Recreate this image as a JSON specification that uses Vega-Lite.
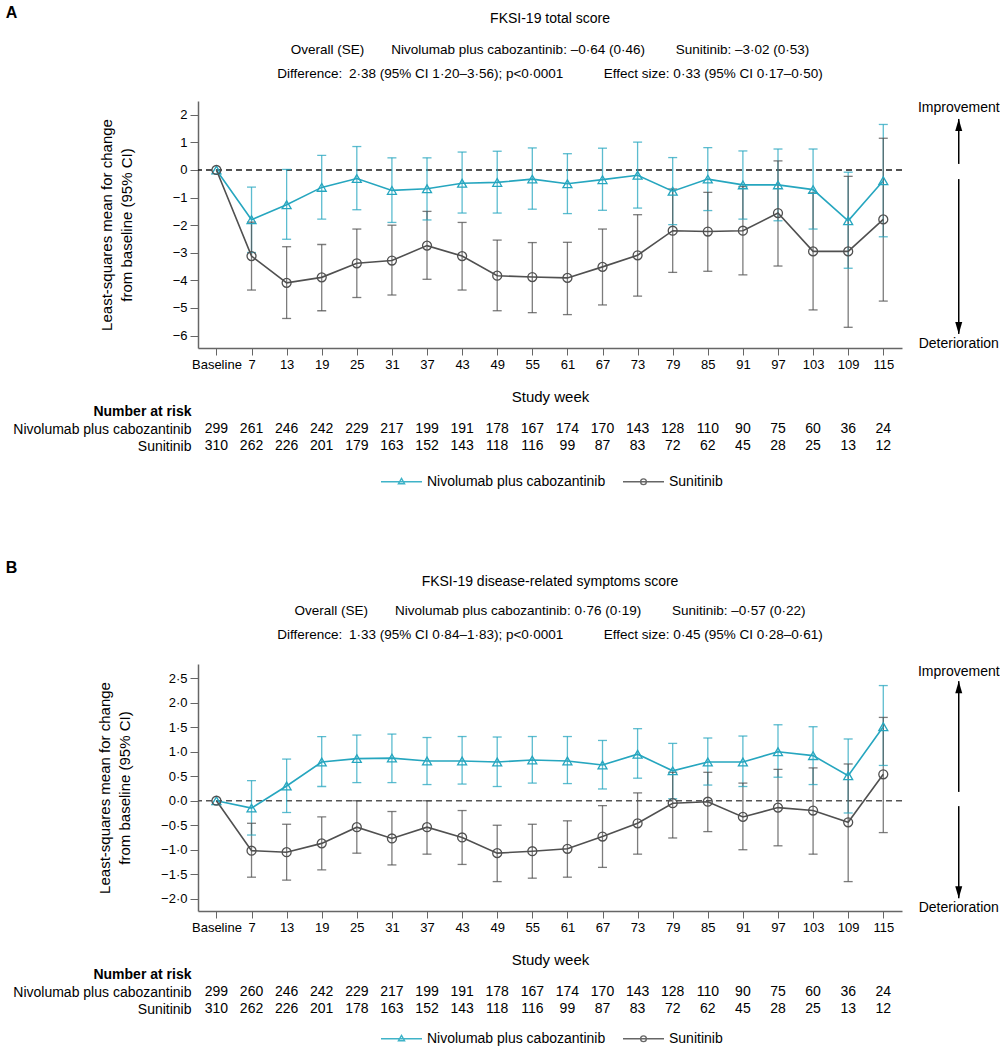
{
  "$schema": "https://vega.github.io/schema/vega-lite/v6.json",
  "config": {
    "font": "Liberation Sans",
    "view": {"stroke": null},
    "axis": {"labelFont": "Liberation Sans", "titleFont": "Liberation Sans", "labelFontSize": 13, "labelColor": "#000", "titleColor": "#000", "titleFontSize": 15, "titleFontWeight": "normal", "domainColor": "#666", "tickColor": "#666", "grid": false, "labelOverlap": false, "labelFlush": false},
    "title": {"font": "Liberation Sans", "subtitleFont": "Liberation Sans", "color": "#000", "subtitleColor": "#000", "fontWeight": "normal"},
    "legend": {"labelFont": "Liberation Sans"},
    "text": {"font": "Liberation Sans"}
  },
  "datasets": {
    "a": [
      {"week": 1, "series": "Nivolumab plus cabozantinib", "mean": 0, "lo": null, "hi": null},
      {"week": 7, "series": "Nivolumab plus cabozantinib", "mean": -1.80, "lo": -2.99, "hi": -0.62},
      {"week": 13, "series": "Nivolumab plus cabozantinib", "mean": -1.26, "lo": -2.51, "hi": 0.02},
      {"week": 19, "series": "Nivolumab plus cabozantinib", "mean": -0.63, "lo": -1.78, "hi": 0.53},
      {"week": 25, "series": "Nivolumab plus cabozantinib", "mean": -0.31, "lo": -1.44, "hi": 0.85},
      {"week": 31, "series": "Nivolumab plus cabozantinib", "mean": -0.74, "lo": -1.90, "hi": 0.44},
      {"week": 37, "series": "Nivolumab plus cabozantinib", "mean": -0.68, "lo": -1.81, "hi": 0.44},
      {"week": 43, "series": "Nivolumab plus cabozantinib", "mean": -0.48, "lo": -1.56, "hi": 0.65},
      {"week": 49, "series": "Nivolumab plus cabozantinib", "mean": -0.45, "lo": -1.56, "hi": 0.68},
      {"week": 55, "series": "Nivolumab plus cabozantinib", "mean": -0.33, "lo": -1.42, "hi": 0.80},
      {"week": 61, "series": "Nivolumab plus cabozantinib", "mean": -0.50, "lo": -1.58, "hi": 0.59},
      {"week": 67, "series": "Nivolumab plus cabozantinib", "mean": -0.35, "lo": -1.46, "hi": 0.79},
      {"week": 73, "series": "Nivolumab plus cabozantinib", "mean": -0.19, "lo": -1.38, "hi": 1.01},
      {"week": 79, "series": "Nivolumab plus cabozantinib", "mean": -0.77, "lo": -1.98, "hi": 0.45},
      {"week": 85, "series": "Nivolumab plus cabozantinib", "mean": -0.33, "lo": -1.47, "hi": 0.81},
      {"week": 91, "series": "Nivolumab plus cabozantinib", "mean": -0.54, "lo": -1.78, "hi": 0.69},
      {"week": 97, "series": "Nivolumab plus cabozantinib", "mean": -0.54, "lo": -1.84, "hi": 0.76},
      {"week": 103, "series": "Nivolumab plus cabozantinib", "mean": -0.71, "lo": -2.14, "hi": 0.76},
      {"week": 109, "series": "Nivolumab plus cabozantinib", "mean": -1.84, "lo": -3.56, "hi": -0.08},
      {"week": 115, "series": "Nivolumab plus cabozantinib", "mean": -0.39, "lo": -2.42, "hi": 1.65},
      {"week": 1, "series": "Sunitinib", "mean": 0, "lo": null, "hi": null},
      {"week": 7, "series": "Sunitinib", "mean": -3.12, "lo": -4.35, "hi": -1.89},
      {"week": 13, "series": "Sunitinib", "mean": -4.09, "lo": -5.38, "hi": -2.78},
      {"week": 19, "series": "Sunitinib", "mean": -3.89, "lo": -5.10, "hi": -2.70},
      {"week": 25, "series": "Sunitinib", "mean": -3.38, "lo": -4.62, "hi": -2.14},
      {"week": 31, "series": "Sunitinib", "mean": -3.28, "lo": -4.53, "hi": -2.00},
      {"week": 37, "series": "Sunitinib", "mean": -2.74, "lo": -3.96, "hi": -1.50},
      {"week": 43, "series": "Sunitinib", "mean": -3.12, "lo": -4.35, "hi": -1.90},
      {"week": 49, "series": "Sunitinib", "mean": -3.83, "lo": -5.10, "hi": -2.54},
      {"week": 55, "series": "Sunitinib", "mean": -3.88, "lo": -5.17, "hi": -2.63},
      {"week": 61, "series": "Sunitinib", "mean": -3.91, "lo": -5.24, "hi": -2.62},
      {"week": 67, "series": "Sunitinib", "mean": -3.51, "lo": -4.89, "hi": -2.14},
      {"week": 73, "series": "Sunitinib", "mean": -3.09, "lo": -4.57, "hi": -1.62},
      {"week": 79, "series": "Sunitinib", "mean": -2.20, "lo": -3.71, "hi": -0.69},
      {"week": 85, "series": "Sunitinib", "mean": -2.23, "lo": -3.67, "hi": -0.81},
      {"week": 91, "series": "Sunitinib", "mean": -2.20, "lo": -3.80, "hi": -0.60},
      {"week": 97, "series": "Sunitinib", "mean": -1.56, "lo": -3.48, "hi": 0.33},
      {"week": 103, "series": "Sunitinib", "mean": -2.95, "lo": -5.07, "hi": -0.83},
      {"week": 109, "series": "Sunitinib", "mean": -2.95, "lo": -5.70, "hi": -0.23},
      {"week": 115, "series": "Sunitinib", "mean": -1.79, "lo": -4.75, "hi": 1.15}
    ],
    "b": [
      {"week": 1, "series": "Nivolumab plus cabozantinib", "mean": 0, "lo": null, "hi": null},
      {"week": 7, "series": "Nivolumab plus cabozantinib", "mean": -0.15, "lo": -0.70, "hi": 0.41},
      {"week": 13, "series": "Nivolumab plus cabozantinib", "mean": 0.30, "lo": -0.24, "hi": 0.85},
      {"week": 19, "series": "Nivolumab plus cabozantinib", "mean": 0.79, "lo": 0.29, "hi": 1.31},
      {"week": 25, "series": "Nivolumab plus cabozantinib", "mean": 0.86, "lo": 0.37, "hi": 1.34},
      {"week": 31, "series": "Nivolumab plus cabozantinib", "mean": 0.87, "lo": 0.37, "hi": 1.36},
      {"week": 37, "series": "Nivolumab plus cabozantinib", "mean": 0.81, "lo": 0.33, "hi": 1.29},
      {"week": 43, "series": "Nivolumab plus cabozantinib", "mean": 0.81, "lo": 0.34, "hi": 1.31},
      {"week": 49, "series": "Nivolumab plus cabozantinib", "mean": 0.79, "lo": 0.29, "hi": 1.30},
      {"week": 55, "series": "Nivolumab plus cabozantinib", "mean": 0.83, "lo": 0.36, "hi": 1.31},
      {"week": 61, "series": "Nivolumab plus cabozantinib", "mean": 0.81, "lo": 0.35, "hi": 1.31},
      {"week": 67, "series": "Nivolumab plus cabozantinib", "mean": 0.73, "lo": 0.24, "hi": 1.23},
      {"week": 73, "series": "Nivolumab plus cabozantinib", "mean": 0.95, "lo": 0.46, "hi": 1.47},
      {"week": 79, "series": "Nivolumab plus cabozantinib", "mean": 0.61, "lo": 0.04, "hi": 1.17},
      {"week": 85, "series": "Nivolumab plus cabozantinib", "mean": 0.79, "lo": 0.32, "hi": 1.28},
      {"week": 91, "series": "Nivolumab plus cabozantinib", "mean": 0.79, "lo": 0.29, "hi": 1.32},
      {"week": 97, "series": "Nivolumab plus cabozantinib", "mean": 1.00, "lo": 0.48, "hi": 1.55},
      {"week": 103, "series": "Nivolumab plus cabozantinib", "mean": 0.92, "lo": 0.33, "hi": 1.51},
      {"week": 109, "series": "Nivolumab plus cabozantinib", "mean": 0.51, "lo": -0.25, "hi": 1.26},
      {"week": 115, "series": "Nivolumab plus cabozantinib", "mean": 1.51, "lo": 0.72, "hi": 2.35},
      {"week": 1, "series": "Sunitinib", "mean": 0, "lo": null, "hi": null},
      {"week": 7, "series": "Sunitinib", "mean": -1.02, "lo": -1.56, "hi": -0.46},
      {"week": 13, "series": "Sunitinib", "mean": -1.05, "lo": -1.62, "hi": -0.48},
      {"week": 19, "series": "Sunitinib", "mean": -0.87, "lo": -1.41, "hi": -0.33},
      {"week": 25, "series": "Sunitinib", "mean": -0.54, "lo": -1.07, "hi": 0.00},
      {"week": 31, "series": "Sunitinib", "mean": -0.77, "lo": -1.31, "hi": -0.22},
      {"week": 37, "series": "Sunitinib", "mean": -0.54, "lo": -1.09, "hi": 0.00},
      {"week": 43, "series": "Sunitinib", "mean": -0.75, "lo": -1.30, "hi": -0.20},
      {"week": 49, "series": "Sunitinib", "mean": -1.07, "lo": -1.65, "hi": -0.50},
      {"week": 55, "series": "Sunitinib", "mean": -1.03, "lo": -1.58, "hi": -0.48},
      {"week": 61, "series": "Sunitinib", "mean": -0.98, "lo": -1.56, "hi": -0.41},
      {"week": 67, "series": "Sunitinib", "mean": -0.73, "lo": -1.36, "hi": -0.10},
      {"week": 73, "series": "Sunitinib", "mean": -0.46, "lo": -1.09, "hi": 0.16},
      {"week": 79, "series": "Sunitinib", "mean": -0.05, "lo": -0.76, "hi": 0.58},
      {"week": 85, "series": "Sunitinib", "mean": -0.02, "lo": -0.63, "hi": 0.58},
      {"week": 91, "series": "Sunitinib", "mean": -0.33, "lo": -1.00, "hi": 0.36},
      {"week": 97, "series": "Sunitinib", "mean": -0.14, "lo": -0.92, "hi": 0.64},
      {"week": 103, "series": "Sunitinib", "mean": -0.20, "lo": -1.09, "hi": 0.67},
      {"week": 109, "series": "Sunitinib", "mean": -0.44, "lo": -1.65, "hi": 0.75},
      {"week": 115, "series": "Sunitinib", "mean": 0.54, "lo": -0.65, "hi": 1.70}
    ],
    "riskA": [
      {"week": 1, "row": "Nivolumab plus cabozantinib", "n": "299"}, {"week": 7, "row": "Nivolumab plus cabozantinib", "n": "261"}, {"week": 13, "row": "Nivolumab plus cabozantinib", "n": "246"}, {"week": 19, "row": "Nivolumab plus cabozantinib", "n": "242"}, {"week": 25, "row": "Nivolumab plus cabozantinib", "n": "229"}, {"week": 31, "row": "Nivolumab plus cabozantinib", "n": "217"}, {"week": 37, "row": "Nivolumab plus cabozantinib", "n": "199"}, {"week": 43, "row": "Nivolumab plus cabozantinib", "n": "191"}, {"week": 49, "row": "Nivolumab plus cabozantinib", "n": "178"}, {"week": 55, "row": "Nivolumab plus cabozantinib", "n": "167"}, {"week": 61, "row": "Nivolumab plus cabozantinib", "n": "174"}, {"week": 67, "row": "Nivolumab plus cabozantinib", "n": "170"}, {"week": 73, "row": "Nivolumab plus cabozantinib", "n": "143"}, {"week": 79, "row": "Nivolumab plus cabozantinib", "n": "128"}, {"week": 85, "row": "Nivolumab plus cabozantinib", "n": "110"}, {"week": 91, "row": "Nivolumab plus cabozantinib", "n": "90"}, {"week": 97, "row": "Nivolumab plus cabozantinib", "n": "75"}, {"week": 103, "row": "Nivolumab plus cabozantinib", "n": "60"}, {"week": 109, "row": "Nivolumab plus cabozantinib", "n": "36"}, {"week": 115, "row": "Nivolumab plus cabozantinib", "n": "24"},
      {"week": 1, "row": "Sunitinib", "n": "310"}, {"week": 7, "row": "Sunitinib", "n": "262"}, {"week": 13, "row": "Sunitinib", "n": "226"}, {"week": 19, "row": "Sunitinib", "n": "201"}, {"week": 25, "row": "Sunitinib", "n": "179"}, {"week": 31, "row": "Sunitinib", "n": "163"}, {"week": 37, "row": "Sunitinib", "n": "152"}, {"week": 43, "row": "Sunitinib", "n": "143"}, {"week": 49, "row": "Sunitinib", "n": "118"}, {"week": 55, "row": "Sunitinib", "n": "116"}, {"week": 61, "row": "Sunitinib", "n": "99"}, {"week": 67, "row": "Sunitinib", "n": "87"}, {"week": 73, "row": "Sunitinib", "n": "83"}, {"week": 79, "row": "Sunitinib", "n": "72"}, {"week": 85, "row": "Sunitinib", "n": "62"}, {"week": 91, "row": "Sunitinib", "n": "45"}, {"week": 97, "row": "Sunitinib", "n": "28"}, {"week": 103, "row": "Sunitinib", "n": "25"}, {"week": 109, "row": "Sunitinib", "n": "13"}, {"week": 115, "row": "Sunitinib", "n": "12"}
    ],
    "riskB": [
      {"week": 1, "row": "Nivolumab plus cabozantinib", "n": "299"}, {"week": 7, "row": "Nivolumab plus cabozantinib", "n": "260"}, {"week": 13, "row": "Nivolumab plus cabozantinib", "n": "246"}, {"week": 19, "row": "Nivolumab plus cabozantinib", "n": "242"}, {"week": 25, "row": "Nivolumab plus cabozantinib", "n": "229"}, {"week": 31, "row": "Nivolumab plus cabozantinib", "n": "217"}, {"week": 37, "row": "Nivolumab plus cabozantinib", "n": "199"}, {"week": 43, "row": "Nivolumab plus cabozantinib", "n": "191"}, {"week": 49, "row": "Nivolumab plus cabozantinib", "n": "178"}, {"week": 55, "row": "Nivolumab plus cabozantinib", "n": "167"}, {"week": 61, "row": "Nivolumab plus cabozantinib", "n": "174"}, {"week": 67, "row": "Nivolumab plus cabozantinib", "n": "170"}, {"week": 73, "row": "Nivolumab plus cabozantinib", "n": "143"}, {"week": 79, "row": "Nivolumab plus cabozantinib", "n": "128"}, {"week": 85, "row": "Nivolumab plus cabozantinib", "n": "110"}, {"week": 91, "row": "Nivolumab plus cabozantinib", "n": "90"}, {"week": 97, "row": "Nivolumab plus cabozantinib", "n": "75"}, {"week": 103, "row": "Nivolumab plus cabozantinib", "n": "60"}, {"week": 109, "row": "Nivolumab plus cabozantinib", "n": "36"}, {"week": 115, "row": "Nivolumab plus cabozantinib", "n": "24"},
      {"week": 1, "row": "Sunitinib", "n": "310"}, {"week": 7, "row": "Sunitinib", "n": "262"}, {"week": 13, "row": "Sunitinib", "n": "226"}, {"week": 19, "row": "Sunitinib", "n": "201"}, {"week": 25, "row": "Sunitinib", "n": "178"}, {"week": 31, "row": "Sunitinib", "n": "163"}, {"week": 37, "row": "Sunitinib", "n": "152"}, {"week": 43, "row": "Sunitinib", "n": "143"}, {"week": 49, "row": "Sunitinib", "n": "118"}, {"week": 55, "row": "Sunitinib", "n": "116"}, {"week": 61, "row": "Sunitinib", "n": "99"}, {"week": 67, "row": "Sunitinib", "n": "87"}, {"week": 73, "row": "Sunitinib", "n": "83"}, {"week": 79, "row": "Sunitinib", "n": "72"}, {"week": 85, "row": "Sunitinib", "n": "62"}, {"week": 91, "row": "Sunitinib", "n": "45"}, {"week": 97, "row": "Sunitinib", "n": "28"}, {"week": 103, "row": "Sunitinib", "n": "25"}, {"week": 109, "row": "Sunitinib", "n": "13"}, {"week": 115, "row": "Sunitinib", "n": "12"}
    ],
    "arrA": [
      {"week": 127.9, "lo": 0.22, "hi": 1.85, "part": "up"},
      {"week": 127.9, "lo": -5.94, "hi": -0.33, "part": "down"}
    ],
    "lblA": [
      {"week": 127.9, "mean": 2.25, "label": "Improvement"},
      {"week": 127.9, "mean": -6.30, "label": "Deterioration"}
    ],
    "arrB": [
      {"week": 127.9, "lo": 0.18, "hi": 2.44, "part": "up"},
      {"week": 127.9, "lo": -1.99, "hi": -0.11, "part": "down"}
    ],
    "lblB": [
      {"week": 127.9, "mean": 2.63, "label": "Improvement"},
      {"week": 127.9, "mean": -2.18, "label": "Deterioration"}
    ],
    "legendItems": [
      {"series": "Nivolumab plus cabozantinib"},
      {"series": "Sunitinib"}
    ]
  },
  "spacing": 70,
  "resolve": {"scale": {"color": "independent", "shape": "independent"}, "legend": {"color": "independent", "shape": "independent"}},
  "vconcat": [
    {
      "title": {"text": "A", "anchor": "start", "frame": "bounds", "fontSize": 16, "fontWeight": "bold", "offset": -9, "dx": -7},
      "spacing": 55,
      "bounds": "flush",
      "resolve": {"scale": {"color": "independent", "shape": "independent"}, "legend": {"color": "independent", "shape": "independent"}},
      "vconcat": [
        {
          "width": 704,
          "height": 247,
          "data": {"name": "a"},
          "title": {"text": "FKSI-19 total score", "subtitle": ["Overall (SE)\u2003\u2003Nivolumab plus cabozantinib: –0·64 (0·46)\u2003\u2003 Sunitinib: –3·02 (0·53)", "Difference:\u20022·38 (95% CI 1·20–3·56); p<0·0001\u2003\u2003\u2003Effect size: 0·33 (95% CI 0·17–0·50)"], "anchor": "middle", "frame": "group", "fontSize": 14, "subtitleFontSize": 13.5, "subtitlePadding": 17, "subtitleLineHeight": 24, "offset": 20},
          "layer": [
            {"data": {"values": [{"ref": 0}]}, "mark": {"type": "rule", "strokeDash": [6, 4], "strokeWidth": 1.5, "color": "#1a1a1a"}, "encoding": {
              "y": {"field": "ref", "type": "quantitative", "scale": {"domain": [-6.45, 2.5], "nice": false, "zero": false}, "axis": {"values": [-6, -5, -4, -3, -2, -1, 0, 1, 2], "title": ["Least-squares mean for change", "from baseline (95% CI)"], "titleLineHeight": 20, "tickSize": 8, "labelPadding": 3, "titlePadding": 38, "labelOverlap": false, "labelFlush": false, "domainWidth": 1.5}}}},
            {"mark": {"type": "rule", "strokeWidth": 1.3, "opacity": 0.75}, "encoding": {
              "x": {"field": "week", "type": "quantitative", "scale": {"domain": [-2.15, 118.2], "nice": false, "zero": false}, "axis": {"values": [1, 7, 13, 19, 25, 31, 37, 43, 49, 55, 61, 67, 73, 79, 85, 91, 97, 103, 109, 115], "labelExpr": "datum.value === 1 ? 'Baseline' : datum.label", "title": "Study week", "tickSize": 7, "labelPadding": 3, "titlePadding": 18, "labelOverlap": false, "labelFlush": false, "domainWidth": 1.5}},
              "y": {"field": "lo", "type": "quantitative", "scale": {"domain": [-6.45, 2.5], "nice": false, "zero": false}, "axis": {"values": [-6, -5, -4, -3, -2, -1, 0, 1, 2], "title": ["Least-squares mean for change", "from baseline (95% CI)"], "titleLineHeight": 20, "tickSize": 8, "labelPadding": 3, "titlePadding": 38, "labelOverlap": false, "labelFlush": false, "domainWidth": 1.5}},
              "y2": {"field": "hi"},
              "color": {"field": "series", "type": "nominal", "scale": {"domain": ["Nivolumab plus cabozantinib", "Sunitinib"], "range": ["#26a6bf", "#505050"]}, "legend": null}}},
            {"mark": {"type": "tick", "orient": "horizontal", "size": 9, "thickness": 1.3, "opacity": 0.75}, "encoding": {
              "x": {"field": "week", "type": "quantitative", "scale": {"domain": [-2.15, 118.2], "nice": false, "zero": false}, "axis": {"values": [1, 7, 13, 19, 25, 31, 37, 43, 49, 55, 61, 67, 73, 79, 85, 91, 97, 103, 109, 115], "labelExpr": "datum.value === 1 ? 'Baseline' : datum.label", "title": "Study week", "tickSize": 7, "labelPadding": 3, "titlePadding": 18, "labelOverlap": false, "labelFlush": false, "domainWidth": 1.5}},
              "y": {"field": "lo", "type": "quantitative", "scale": {"domain": [-6.45, 2.5], "nice": false, "zero": false}, "axis": {"values": [-6, -5, -4, -3, -2, -1, 0, 1, 2], "title": ["Least-squares mean for change", "from baseline (95% CI)"], "titleLineHeight": 20, "tickSize": 8, "labelPadding": 3, "titlePadding": 38, "labelOverlap": false, "labelFlush": false, "domainWidth": 1.5}},
              "color": {"field": "series", "type": "nominal", "scale": {"domain": ["Nivolumab plus cabozantinib", "Sunitinib"], "range": ["#26a6bf", "#505050"]}, "legend": null}}},
            {"mark": {"type": "tick", "orient": "horizontal", "size": 9, "thickness": 1.3, "opacity": 0.75}, "encoding": {
              "x": {"field": "week", "type": "quantitative", "scale": {"domain": [-2.15, 118.2], "nice": false, "zero": false}, "axis": {"values": [1, 7, 13, 19, 25, 31, 37, 43, 49, 55, 61, 67, 73, 79, 85, 91, 97, 103, 109, 115], "labelExpr": "datum.value === 1 ? 'Baseline' : datum.label", "title": "Study week", "tickSize": 7, "labelPadding": 3, "titlePadding": 18, "labelOverlap": false, "labelFlush": false, "domainWidth": 1.5}},
              "y": {"field": "hi", "type": "quantitative", "scale": {"domain": [-6.45, 2.5], "nice": false, "zero": false}, "axis": {"values": [-6, -5, -4, -3, -2, -1, 0, 1, 2], "title": ["Least-squares mean for change", "from baseline (95% CI)"], "titleLineHeight": 20, "tickSize": 8, "labelPadding": 3, "titlePadding": 38, "labelOverlap": false, "labelFlush": false, "domainWidth": 1.5}},
              "color": {"field": "series", "type": "nominal", "scale": {"domain": ["Nivolumab plus cabozantinib", "Sunitinib"], "range": ["#26a6bf", "#505050"]}, "legend": null}}},
            {"mark": {"type": "line", "strokeWidth": 1.6}, "encoding": {
              "x": {"field": "week", "type": "quantitative", "scale": {"domain": [-2.15, 118.2], "nice": false, "zero": false}, "axis": {"values": [1, 7, 13, 19, 25, 31, 37, 43, 49, 55, 61, 67, 73, 79, 85, 91, 97, 103, 109, 115], "labelExpr": "datum.value === 1 ? 'Baseline' : datum.label", "title": "Study week", "tickSize": 7, "labelPadding": 3, "titlePadding": 18, "labelOverlap": false, "labelFlush": false, "domainWidth": 1.5}},
              "y": {"field": "mean", "type": "quantitative", "scale": {"domain": [-6.45, 2.5], "nice": false, "zero": false}, "axis": {"values": [-6, -5, -4, -3, -2, -1, 0, 1, 2], "title": ["Least-squares mean for change", "from baseline (95% CI)"], "titleLineHeight": 20, "tickSize": 8, "labelPadding": 3, "titlePadding": 38, "labelOverlap": false, "labelFlush": false, "domainWidth": 1.5}},
              "color": {"field": "series", "type": "nominal", "scale": {"domain": ["Nivolumab plus cabozantinib", "Sunitinib"], "range": ["#26a6bf", "#505050"]}, "legend": null}}},
            {"mark": {"type": "point", "filled": false, "size": 80, "strokeWidth": 1.3, "opacity": 1}, "encoding": {
              "x": {"field": "week", "type": "quantitative", "scale": {"domain": [-2.15, 118.2], "nice": false, "zero": false}, "axis": {"values": [1, 7, 13, 19, 25, 31, 37, 43, 49, 55, 61, 67, 73, 79, 85, 91, 97, 103, 109, 115], "labelExpr": "datum.value === 1 ? 'Baseline' : datum.label", "title": "Study week", "tickSize": 7, "labelPadding": 3, "titlePadding": 18, "labelOverlap": false, "labelFlush": false, "domainWidth": 1.5}},
              "y": {"field": "mean", "type": "quantitative", "scale": {"domain": [-6.45, 2.5], "nice": false, "zero": false}, "axis": {"values": [-6, -5, -4, -3, -2, -1, 0, 1, 2], "title": ["Least-squares mean for change", "from baseline (95% CI)"], "titleLineHeight": 20, "tickSize": 8, "labelPadding": 3, "titlePadding": 38, "labelOverlap": false, "labelFlush": false, "domainWidth": 1.5}},
              "color": {"field": "series", "type": "nominal", "scale": {"domain": ["Nivolumab plus cabozantinib", "Sunitinib"], "range": ["#26a6bf", "#505050"]}, "legend": null},
              "shape": {"field": "series", "type": "nominal", "scale": {"domain": ["Nivolumab plus cabozantinib", "Sunitinib"], "range": ["triangle-up", "circle"]}, "legend": null}}},
            {"data": {"name": "arrA"}, "mark": {"type": "rule", "strokeWidth": 1.5, "color": "#000"}, "encoding": {
              "x": {"field": "week", "type": "quantitative", "scale": {"domain": [-2.15, 118.2], "nice": false, "zero": false}, "axis": {"values": [1, 7, 13, 19, 25, 31, 37, 43, 49, 55, 61, 67, 73, 79, 85, 91, 97, 103, 109, 115], "labelExpr": "datum.value === 1 ? 'Baseline' : datum.label", "title": "Study week", "tickSize": 7, "labelPadding": 3, "titlePadding": 18, "labelOverlap": false, "labelFlush": false, "domainWidth": 1.5}},
              "y": {"field": "lo", "type": "quantitative", "scale": {"domain": [-6.45, 2.5], "nice": false, "zero": false}, "axis": {"values": [-6, -5, -4, -3, -2, -1, 0, 1, 2], "title": ["Least-squares mean for change", "from baseline (95% CI)"], "titleLineHeight": 20, "tickSize": 8, "labelPadding": 3, "titlePadding": 38, "labelOverlap": false, "labelFlush": false, "domainWidth": 1.5}},
              "y2": {"field": "hi"}}},
            {"data": {"name": "arrA"}, "transform": [{"filter": "datum.part === 'up'"}], "mark": {"type": "point", "shape": "M0,0L0.7,2.4L-0.7,2.4Z", "filled": true, "size": 100, "color": "#000", "opacity": 1}, "encoding": {
              "x": {"field": "week", "type": "quantitative", "scale": {"domain": [-2.15, 118.2], "nice": false, "zero": false}, "axis": {"values": [1, 7, 13, 19, 25, 31, 37, 43, 49, 55, 61, 67, 73, 79, 85, 91, 97, 103, 109, 115], "labelExpr": "datum.value === 1 ? 'Baseline' : datum.label", "title": "Study week", "tickSize": 7, "labelPadding": 3, "titlePadding": 18, "labelOverlap": false, "labelFlush": false, "domainWidth": 1.5}},
              "y": {"field": "hi", "type": "quantitative", "scale": {"domain": [-6.45, 2.5], "nice": false, "zero": false}, "axis": {"values": [-6, -5, -4, -3, -2, -1, 0, 1, 2], "title": ["Least-squares mean for change", "from baseline (95% CI)"], "titleLineHeight": 20, "tickSize": 8, "labelPadding": 3, "titlePadding": 38, "labelOverlap": false, "labelFlush": false, "domainWidth": 1.5}}}},
            {"data": {"name": "arrA"}, "transform": [{"filter": "datum.part === 'down'"}], "mark": {"type": "point", "shape": "M0,0L0.7,-2.4L-0.7,-2.4Z", "filled": true, "size": 100, "color": "#000", "opacity": 1}, "encoding": {
              "x": {"field": "week", "type": "quantitative", "scale": {"domain": [-2.15, 118.2], "nice": false, "zero": false}, "axis": {"values": [1, 7, 13, 19, 25, 31, 37, 43, 49, 55, 61, 67, 73, 79, 85, 91, 97, 103, 109, 115], "labelExpr": "datum.value === 1 ? 'Baseline' : datum.label", "title": "Study week", "tickSize": 7, "labelPadding": 3, "titlePadding": 18, "labelOverlap": false, "labelFlush": false, "domainWidth": 1.5}},
              "y": {"field": "lo", "type": "quantitative", "scale": {"domain": [-6.45, 2.5], "nice": false, "zero": false}, "axis": {"values": [-6, -5, -4, -3, -2, -1, 0, 1, 2], "title": ["Least-squares mean for change", "from baseline (95% CI)"], "titleLineHeight": 20, "tickSize": 8, "labelPadding": 3, "titlePadding": 38, "labelOverlap": false, "labelFlush": false, "domainWidth": 1.5}}}},
            {"data": {"name": "lblA"}, "mark": {"type": "text", "fontSize": 14, "color": "#000"}, "encoding": {
              "x": {"field": "week", "type": "quantitative", "scale": {"domain": [-2.15, 118.2], "nice": false, "zero": false}, "axis": {"values": [1, 7, 13, 19, 25, 31, 37, 43, 49, 55, 61, 67, 73, 79, 85, 91, 97, 103, 109, 115], "labelExpr": "datum.value === 1 ? 'Baseline' : datum.label", "title": "Study week", "tickSize": 7, "labelPadding": 3, "titlePadding": 18, "labelOverlap": false, "labelFlush": false, "domainWidth": 1.5}},
              "y": {"field": "mean", "type": "quantitative", "scale": {"domain": [-6.45, 2.5], "nice": false, "zero": false}, "axis": {"values": [-6, -5, -4, -3, -2, -1, 0, 1, 2], "title": ["Least-squares mean for change", "from baseline (95% CI)"], "titleLineHeight": 20, "tickSize": 8, "labelPadding": 3, "titlePadding": 38, "labelOverlap": false, "labelFlush": false, "domainWidth": 1.5}},
              "text": {"field": "label"}}}
          ]
        },
        {
          "width": 704,
          "height": 52,
          "layer": [
            {"data": {"name": "riskA"}, "mark": {"type": "text", "fontSize": 14, "color": "#000", "baseline": "middle", "align": "center"}, "encoding": {
              "x": {"field": "week", "type": "quantitative", "scale": {"domain": [-2.15, 118.2], "nice": false, "zero": false}, "axis": null},
              "y": {"field": "row", "type": "nominal", "scale": {"type": "point", "domain": ["Number at risk", "Nivolumab plus cabozantinib", "Sunitinib"], "padding": 0.5}, "axis": {"title": null, "domain": false, "ticks": false, "labelFontSize": 14, "labelPadding": 7, "labelLimit": 400, "labelFontWeight": {"condition": {"test": "datum.value === 'Number at risk'", "value": "bold"}, "value": "normal"}}},
              "text": {"field": "n", "type": "nominal"}}},
            {"data": {"name": "legendItems"}, "mark": {"type": "point", "opacity": 0, "filled": false}, "encoding": {
              "color": {"field": "series", "type": "nominal", "scale": {"domain": ["Nivolumab plus cabozantinib", "Sunitinib"], "range": ["#3fb3c8", "#666666"]}, "legend": {"orient": "none", "legendX": 182, "legendY": 57, "direction": "horizontal", "title": null, "labelFontSize": 14, "labelColor": "#000", "labelLimit": 300, "symbolSize": 1681, "symbolStrokeWidth": 1.4, "symbolOpacity": 1, "labelOffset": 4, "columnPadding": 14}},
              "shape": {"field": "series", "type": "nominal", "scale": {"domain": ["Nivolumab plus cabozantinib", "Sunitinib"], "range": ["M-1,0H1M0,-0.16L0.15,0.1L-0.15,0.1Z", "M-1,0H1M0.14,0A0.14,0.14,0,1,1,-0.14,0A0.14,0.14,0,1,1,0.14,0Z"]}, "legend": {"orient": "none", "legendX": 182, "legendY": 57, "direction": "horizontal", "title": null, "labelFontSize": 14, "labelColor": "#000", "labelLimit": 300, "symbolSize": 1681, "symbolStrokeWidth": 1.4, "symbolOpacity": 1, "labelOffset": 4, "columnPadding": 14}}}}
          ]
        }
      ]
    },
    {
      "title": {"text": "B", "anchor": "start", "frame": "bounds", "fontSize": 16, "fontWeight": "bold", "offset": -1, "dx": -7},
      "spacing": 55,
      "bounds": "flush",
      "resolve": {"scale": {"color": "independent", "shape": "independent"}, "legend": {"color": "independent", "shape": "independent"}},
      "vconcat": [
        {
          "width": 704,
          "height": 247,
          "data": {"name": "b"},
          "title": {"text": "FKSI-19 disease-related symptoms score", "subtitle": ["Overall (SE)\u2003\u2003Nivolumab plus cabozantinib: 0·76 (0·19)\u2003\u2003 Sunitinib: –0·57 (0·22)", "Difference:\u20021·33 (95% CI 0·84–1·83); p<0·0001\u2003\u2003\u2003Effect size: 0·45 (95% CI 0·28–0·61)"], "anchor": "middle", "frame": "group", "fontSize": 14, "subtitleFontSize": 13.5, "subtitlePadding": 15, "subtitleLineHeight": 24, "offset": 23},
          "layer": [
            {"data": {"values": [{"ref": 0}]}, "mark": {"type": "rule", "strokeDash": [6, 4], "strokeWidth": 1.5, "color": "#555555"}, "encoding": {
              "y": {"field": "ref", "type": "quantitative", "scale": {"domain": [-2.25, 2.79], "nice": false, "zero": false}, "axis": {"values": [-2, -1.5, -1, -0.5, 0, 0.5, 1, 1.5, 2, 2.5], "labelExpr": "replace(format(datum.value, '.1f'), '.', '·')", "title": ["Least-squares mean for change", "from baseline (95% CI)"], "titleLineHeight": 20, "tickSize": 8, "labelPadding": 3, "titlePadding": 28, "labelOverlap": false, "labelFlush": false, "domainWidth": 1.5}}}},
            {"mark": {"type": "rule", "strokeWidth": 1.3, "opacity": 0.75}, "encoding": {
              "x": {"field": "week", "type": "quantitative", "scale": {"domain": [-2.15, 118.2], "nice": false, "zero": false}, "axis": {"values": [1, 7, 13, 19, 25, 31, 37, 43, 49, 55, 61, 67, 73, 79, 85, 91, 97, 103, 109, 115], "labelExpr": "datum.value === 1 ? 'Baseline' : datum.label", "title": "Study week", "tickSize": 7, "labelPadding": 3, "titlePadding": 18, "labelOverlap": false, "labelFlush": false, "domainWidth": 1.5}},
              "y": {"field": "lo", "type": "quantitative", "scale": {"domain": [-2.25, 2.79], "nice": false, "zero": false}, "axis": {"values": [-2, -1.5, -1, -0.5, 0, 0.5, 1, 1.5, 2, 2.5], "labelExpr": "replace(format(datum.value, '.1f'), '.', '·')", "title": ["Least-squares mean for change", "from baseline (95% CI)"], "titleLineHeight": 20, "tickSize": 8, "labelPadding": 3, "titlePadding": 28, "labelOverlap": false, "labelFlush": false, "domainWidth": 1.5}},
              "y2": {"field": "hi"},
              "color": {"field": "series", "type": "nominal", "scale": {"domain": ["Nivolumab plus cabozantinib", "Sunitinib"], "range": ["#26a6bf", "#505050"]}, "legend": null}}},
            {"mark": {"type": "tick", "orient": "horizontal", "size": 9, "thickness": 1.3, "opacity": 0.75}, "encoding": {
              "x": {"field": "week", "type": "quantitative", "scale": {"domain": [-2.15, 118.2], "nice": false, "zero": false}, "axis": {"values": [1, 7, 13, 19, 25, 31, 37, 43, 49, 55, 61, 67, 73, 79, 85, 91, 97, 103, 109, 115], "labelExpr": "datum.value === 1 ? 'Baseline' : datum.label", "title": "Study week", "tickSize": 7, "labelPadding": 3, "titlePadding": 18, "labelOverlap": false, "labelFlush": false, "domainWidth": 1.5}},
              "y": {"field": "lo", "type": "quantitative", "scale": {"domain": [-2.25, 2.79], "nice": false, "zero": false}, "axis": {"values": [-2, -1.5, -1, -0.5, 0, 0.5, 1, 1.5, 2, 2.5], "labelExpr": "replace(format(datum.value, '.1f'), '.', '·')", "title": ["Least-squares mean for change", "from baseline (95% CI)"], "titleLineHeight": 20, "tickSize": 8, "labelPadding": 3, "titlePadding": 28, "labelOverlap": false, "labelFlush": false, "domainWidth": 1.5}},
              "color": {"field": "series", "type": "nominal", "scale": {"domain": ["Nivolumab plus cabozantinib", "Sunitinib"], "range": ["#26a6bf", "#505050"]}, "legend": null}}},
            {"mark": {"type": "tick", "orient": "horizontal", "size": 9, "thickness": 1.3, "opacity": 0.75}, "encoding": {
              "x": {"field": "week", "type": "quantitative", "scale": {"domain": [-2.15, 118.2], "nice": false, "zero": false}, "axis": {"values": [1, 7, 13, 19, 25, 31, 37, 43, 49, 55, 61, 67, 73, 79, 85, 91, 97, 103, 109, 115], "labelExpr": "datum.value === 1 ? 'Baseline' : datum.label", "title": "Study week", "tickSize": 7, "labelPadding": 3, "titlePadding": 18, "labelOverlap": false, "labelFlush": false, "domainWidth": 1.5}},
              "y": {"field": "hi", "type": "quantitative", "scale": {"domain": [-2.25, 2.79], "nice": false, "zero": false}, "axis": {"values": [-2, -1.5, -1, -0.5, 0, 0.5, 1, 1.5, 2, 2.5], "labelExpr": "replace(format(datum.value, '.1f'), '.', '·')", "title": ["Least-squares mean for change", "from baseline (95% CI)"], "titleLineHeight": 20, "tickSize": 8, "labelPadding": 3, "titlePadding": 28, "labelOverlap": false, "labelFlush": false, "domainWidth": 1.5}},
              "color": {"field": "series", "type": "nominal", "scale": {"domain": ["Nivolumab plus cabozantinib", "Sunitinib"], "range": ["#26a6bf", "#505050"]}, "legend": null}}},
            {"mark": {"type": "line", "strokeWidth": 1.6}, "encoding": {
              "x": {"field": "week", "type": "quantitative", "scale": {"domain": [-2.15, 118.2], "nice": false, "zero": false}, "axis": {"values": [1, 7, 13, 19, 25, 31, 37, 43, 49, 55, 61, 67, 73, 79, 85, 91, 97, 103, 109, 115], "labelExpr": "datum.value === 1 ? 'Baseline' : datum.label", "title": "Study week", "tickSize": 7, "labelPadding": 3, "titlePadding": 18, "labelOverlap": false, "labelFlush": false, "domainWidth": 1.5}},
              "y": {"field": "mean", "type": "quantitative", "scale": {"domain": [-2.25, 2.79], "nice": false, "zero": false}, "axis": {"values": [-2, -1.5, -1, -0.5, 0, 0.5, 1, 1.5, 2, 2.5], "labelExpr": "replace(format(datum.value, '.1f'), '.', '·')", "title": ["Least-squares mean for change", "from baseline (95% CI)"], "titleLineHeight": 20, "tickSize": 8, "labelPadding": 3, "titlePadding": 28, "labelOverlap": false, "labelFlush": false, "domainWidth": 1.5}},
              "color": {"field": "series", "type": "nominal", "scale": {"domain": ["Nivolumab plus cabozantinib", "Sunitinib"], "range": ["#26a6bf", "#505050"]}, "legend": null}}},
            {"mark": {"type": "point", "filled": false, "size": 80, "strokeWidth": 1.3, "opacity": 1}, "encoding": {
              "x": {"field": "week", "type": "quantitative", "scale": {"domain": [-2.15, 118.2], "nice": false, "zero": false}, "axis": {"values": [1, 7, 13, 19, 25, 31, 37, 43, 49, 55, 61, 67, 73, 79, 85, 91, 97, 103, 109, 115], "labelExpr": "datum.value === 1 ? 'Baseline' : datum.label", "title": "Study week", "tickSize": 7, "labelPadding": 3, "titlePadding": 18, "labelOverlap": false, "labelFlush": false, "domainWidth": 1.5}},
              "y": {"field": "mean", "type": "quantitative", "scale": {"domain": [-2.25, 2.79], "nice": false, "zero": false}, "axis": {"values": [-2, -1.5, -1, -0.5, 0, 0.5, 1, 1.5, 2, 2.5], "labelExpr": "replace(format(datum.value, '.1f'), '.', '·')", "title": ["Least-squares mean for change", "from baseline (95% CI)"], "titleLineHeight": 20, "tickSize": 8, "labelPadding": 3, "titlePadding": 28, "labelOverlap": false, "labelFlush": false, "domainWidth": 1.5}},
              "color": {"field": "series", "type": "nominal", "scale": {"domain": ["Nivolumab plus cabozantinib", "Sunitinib"], "range": ["#26a6bf", "#505050"]}, "legend": null},
              "shape": {"field": "series", "type": "nominal", "scale": {"domain": ["Nivolumab plus cabozantinib", "Sunitinib"], "range": ["triangle-up", "circle"]}, "legend": null}}},
            {"data": {"name": "arrB"}, "mark": {"type": "rule", "strokeWidth": 1.5, "color": "#000"}, "encoding": {
              "x": {"field": "week", "type": "quantitative", "scale": {"domain": [-2.15, 118.2], "nice": false, "zero": false}, "axis": {"values": [1, 7, 13, 19, 25, 31, 37, 43, 49, 55, 61, 67, 73, 79, 85, 91, 97, 103, 109, 115], "labelExpr": "datum.value === 1 ? 'Baseline' : datum.label", "title": "Study week", "tickSize": 7, "labelPadding": 3, "titlePadding": 18, "labelOverlap": false, "labelFlush": false, "domainWidth": 1.5}},
              "y": {"field": "lo", "type": "quantitative", "scale": {"domain": [-2.25, 2.79], "nice": false, "zero": false}, "axis": {"values": [-2, -1.5, -1, -0.5, 0, 0.5, 1, 1.5, 2, 2.5], "labelExpr": "replace(format(datum.value, '.1f'), '.', '·')", "title": ["Least-squares mean for change", "from baseline (95% CI)"], "titleLineHeight": 20, "tickSize": 8, "labelPadding": 3, "titlePadding": 28, "labelOverlap": false, "labelFlush": false, "domainWidth": 1.5}},
              "y2": {"field": "hi"}}},
            {"data": {"name": "arrB"}, "transform": [{"filter": "datum.part === 'up'"}], "mark": {"type": "point", "shape": "M0,0L0.7,2.4L-0.7,2.4Z", "filled": true, "size": 100, "color": "#000", "opacity": 1}, "encoding": {
              "x": {"field": "week", "type": "quantitative", "scale": {"domain": [-2.15, 118.2], "nice": false, "zero": false}, "axis": {"values": [1, 7, 13, 19, 25, 31, 37, 43, 49, 55, 61, 67, 73, 79, 85, 91, 97, 103, 109, 115], "labelExpr": "datum.value === 1 ? 'Baseline' : datum.label", "title": "Study week", "tickSize": 7, "labelPadding": 3, "titlePadding": 18, "labelOverlap": false, "labelFlush": false, "domainWidth": 1.5}},
              "y": {"field": "hi", "type": "quantitative", "scale": {"domain": [-2.25, 2.79], "nice": false, "zero": false}, "axis": {"values": [-2, -1.5, -1, -0.5, 0, 0.5, 1, 1.5, 2, 2.5], "labelExpr": "replace(format(datum.value, '.1f'), '.', '·')", "title": ["Least-squares mean for change", "from baseline (95% CI)"], "titleLineHeight": 20, "tickSize": 8, "labelPadding": 3, "titlePadding": 28, "labelOverlap": false, "labelFlush": false, "domainWidth": 1.5}}}},
            {"data": {"name": "arrB"}, "transform": [{"filter": "datum.part === 'down'"}], "mark": {"type": "point", "shape": "M0,0L0.7,-2.4L-0.7,-2.4Z", "filled": true, "size": 100, "color": "#000", "opacity": 1}, "encoding": {
              "x": {"field": "week", "type": "quantitative", "scale": {"domain": [-2.15, 118.2], "nice": false, "zero": false}, "axis": {"values": [1, 7, 13, 19, 25, 31, 37, 43, 49, 55, 61, 67, 73, 79, 85, 91, 97, 103, 109, 115], "labelExpr": "datum.value === 1 ? 'Baseline' : datum.label", "title": "Study week", "tickSize": 7, "labelPadding": 3, "titlePadding": 18, "labelOverlap": false, "labelFlush": false, "domainWidth": 1.5}},
              "y": {"field": "lo", "type": "quantitative", "scale": {"domain": [-2.25, 2.79], "nice": false, "zero": false}, "axis": {"values": [-2, -1.5, -1, -0.5, 0, 0.5, 1, 1.5, 2, 2.5], "labelExpr": "replace(format(datum.value, '.1f'), '.', '·')", "title": ["Least-squares mean for change", "from baseline (95% CI)"], "titleLineHeight": 20, "tickSize": 8, "labelPadding": 3, "titlePadding": 28, "labelOverlap": false, "labelFlush": false, "domainWidth": 1.5}}}},
            {"data": {"name": "lblB"}, "mark": {"type": "text", "fontSize": 14, "color": "#000"}, "encoding": {
              "x": {"field": "week", "type": "quantitative", "scale": {"domain": [-2.15, 118.2], "nice": false, "zero": false}, "axis": {"values": [1, 7, 13, 19, 25, 31, 37, 43, 49, 55, 61, 67, 73, 79, 85, 91, 97, 103, 109, 115], "labelExpr": "datum.value === 1 ? 'Baseline' : datum.label", "title": "Study week", "tickSize": 7, "labelPadding": 3, "titlePadding": 18, "labelOverlap": false, "labelFlush": false, "domainWidth": 1.5}},
              "y": {"field": "mean", "type": "quantitative", "scale": {"domain": [-2.25, 2.79], "nice": false, "zero": false}, "axis": {"values": [-2, -1.5, -1, -0.5, 0, 0.5, 1, 1.5, 2, 2.5], "labelExpr": "replace(format(datum.value, '.1f'), '.', '·')", "title": ["Least-squares mean for change", "from baseline (95% CI)"], "titleLineHeight": 20, "tickSize": 8, "labelPadding": 3, "titlePadding": 28, "labelOverlap": false, "labelFlush": false, "domainWidth": 1.5}},
              "text": {"field": "label"}}}
          ]
        },
        {
          "width": 704,
          "height": 52,
          "layer": [
            {"data": {"name": "riskB"}, "mark": {"type": "text", "fontSize": 14, "color": "#000", "baseline": "middle", "align": "center"}, "encoding": {
              "x": {"field": "week", "type": "quantitative", "scale": {"domain": [-2.15, 118.2], "nice": false, "zero": false}, "axis": null},
              "y": {"field": "row", "type": "nominal", "scale": {"type": "point", "domain": ["Number at risk", "Nivolumab plus cabozantinib", "Sunitinib"], "padding": 0.5}, "axis": {"title": null, "domain": false, "ticks": false, "labelFontSize": 14, "labelPadding": 7, "labelLimit": 400, "labelFontWeight": {"condition": {"test": "datum.value === 'Number at risk'", "value": "bold"}, "value": "normal"}}},
              "text": {"field": "n", "type": "nominal"}}},
            {"data": {"name": "legendItems"}, "mark": {"type": "point", "opacity": 0, "filled": false}, "encoding": {
              "color": {"field": "series", "type": "nominal", "scale": {"domain": ["Nivolumab plus cabozantinib", "Sunitinib"], "range": ["#3fb3c8", "#666666"]}, "legend": {"orient": "none", "legendX": 182, "legendY": 51, "direction": "horizontal", "title": null, "labelFontSize": 14, "labelColor": "#000", "labelLimit": 300, "symbolSize": 1681, "symbolStrokeWidth": 1.4, "symbolOpacity": 1, "labelOffset": 4, "columnPadding": 14}},
              "shape": {"field": "series", "type": "nominal", "scale": {"domain": ["Nivolumab plus cabozantinib", "Sunitinib"], "range": ["M-1,0H1M0,-0.16L0.15,0.1L-0.15,0.1Z", "M-1,0H1M0.14,0A0.14,0.14,0,1,1,-0.14,0A0.14,0.14,0,1,1,0.14,0Z"]}, "legend": {"orient": "none", "legendX": 182, "legendY": 51, "direction": "horizontal", "title": null, "labelFontSize": 14, "labelColor": "#000", "labelLimit": 300, "symbolSize": 1681, "symbolStrokeWidth": 1.4, "symbolOpacity": 1, "labelOffset": 4, "columnPadding": 14}}}}
          ]
        }
      ]
    }
  ]
}
